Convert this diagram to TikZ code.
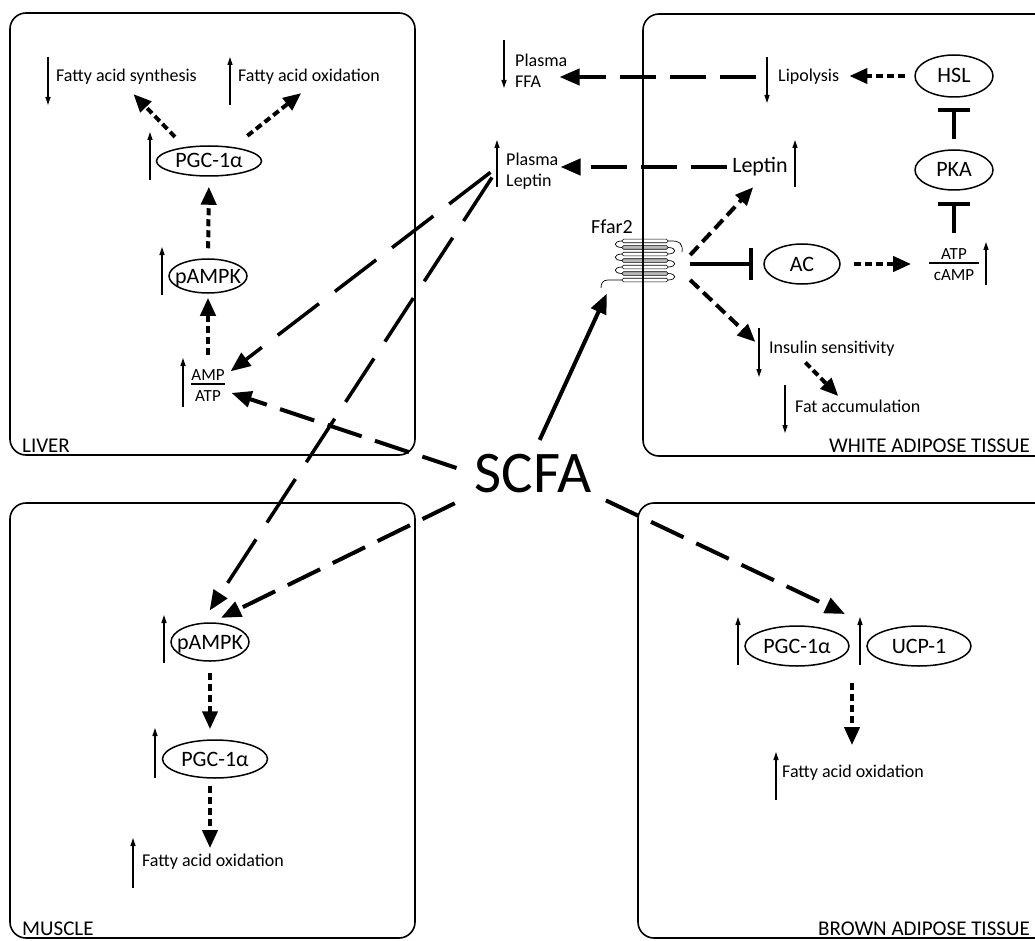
\documentclass[tikz,border=0pt]{standalone}
\usepackage{fontspec}
\setmainfont{Carlito}
\usetikzlibrary{arrows.meta,shapes.geometric}

\newcommand{\fracbox}[3][0pt]{{\setlength{\arrayrulewidth}{1.3pt}\begin{tabular}{@{\hspace{#1}}c@{\hspace{#1}}}#2\\[-3pt]\hline\rule{0pt}{17pt}#3\end{tabular}}}

\tikzset{
    organ/.style={draw, line width=1.6pt, rounded corners=16pt},
    region/.style={font=\fontsize{21}{24}\selectfont, inner sep=0pt},
    txt/.style={font=\fontsize{18}{21}\selectfont, anchor=west, inner sep=2pt, align=left},
    oval/.style={ellipse, draw, line width=1.5pt, inner sep=0pt, font=\fontsize{22}{26}\selectfont, text height=14pt, text depth=0pt},
    ratio/.style={font=\fontsize{17}{20}\selectfont, inner sep=1pt},
    updown/.style={line width=1.3pt, -{Triangle[length=8pt,width=5pt]}},
    sdash/.style={line width=4pt, dash pattern=on 7pt off 4pt, -{Triangle[length=18pt,width=15pt]}},
    mdash/.style={line width=4pt, dash pattern=on 12pt off 6pt, -{Triangle[length=18pt,width=15pt]}},
    ldash/.style={line width=4pt, dash pattern=on 36pt off 14pt, -{Triangle[length=20pt,width=16pt]}},
    pdash/.style={line width=3.5pt, dash pattern=on 52pt off 20pt, -{Triangle[length=20pt,width=16pt]}},
    solidarr/.style={line width=4pt, -{Triangle[length=20pt,width=16pt]}},
    blunt/.style={line width=4pt, -{Bar[width=32pt]}}
}

\begin{document}
\begin{tikzpicture}[x=1pt, y=-1pt]
    \useasboundingbox (0,0) rectangle (1035,941);
    \clip (0,0) rectangle (1035,941);

    % Ffar2 receptor
    \foreach \i in {0,2,4}
        \draw[line width=0.7pt] (622,{241+6.5*\i}) .. controls (613,{241+6.5*\i}) and (613,{247.5+6.5*\i}) .. (622,{247.5+6.5*\i});
    \foreach \i in {1,3,5}
        \draw[line width=0.7pt] (668,{241+6.5*\i}) .. controls (677,{241+6.5*\i}) and (677,{247.5+6.5*\i}) .. (668,{247.5+6.5*\i});
    \draw[line width=0.7pt] (668,241) .. controls (681,240) and (683,245) .. (682,252);
    \draw[line width=0.7pt] (622,280) -- (608,280) .. controls (603,280) and (601,283) .. (601,288);
    \foreach \i/\col in {0/white,1/gray!55,2/white,3/gray!55,4/white,5/gray!55,6/white}
        \draw[line width=0.6pt, fill=\col, rounded corners=1.5pt] (622,{239.2+6.5*\i}) rectangle (668,{242.8+6.5*\i});
    \node[minimum width=70pt, minimum height=50pt] (wffar) at (645,262) {};
    \node[font=\fontsize{20}{24}\selectfont] (wffarlbl) at (612,227) {Ffar2};

    % Organ boxes
    \draw[organ] (10,13) rectangle (415,455);
    \draw[organ] (643,14) rectangle (1070,456);
    \draw[organ] (10,503) rectangle (415,938);
    \draw[organ] (638,503) rectangle (1070,938);
    \node[region, anchor=base west] (livlbl) at (22,452) {LIVER};
    \node[region, anchor=base east] (watlbl) at (1030,452) {WHITE ADIPOSE TISSUE};
    \node[region, anchor=base west] (muslbl) at (22,935) {MUSCLE};
    \node[region, anchor=base east] (batlbl) at (1030,935) {BROWN ADIPOSE TISSUE};

    % Liver
    \node[oval, minimum width=105pt, minimum height=30pt] (lpgc) at (209,161) {PGC-1α};
    \node[oval, minimum width=78pt, minimum height=34pt] (lampk) at (208,276) {\makebox[0pt]{pAMPK}};
    \node[ratio] (lamp) at (208,387) {\fracbox{AMP}{ATP}};
    \node[txt] (lsyn) at (54,77) {Fatty acid synthesis};
    \node[txt] (lox) at (236,77) {Fatty acid oxidation};
    \draw[updown] (48,57) -- (48,105);
    \draw[updown] (230,105) -- (230,57);
    \draw[updown] (150,180) -- (150,132);
    \draw[updown] (162,295) -- (162,247);
    \draw[updown] (183,407) -- (183,358);
    \draw[sdash, shorten <=10pt, shorten >=4pt] (lamp.north) -- (lampk.south);
    \draw[sdash, shorten <=10pt, shorten >=10pt] (lampk.north) -- (lpgc.south);
    \draw[sdash, shorten <=14pt, shorten >=10pt] (lpgc.150) -- (lsyn.south);
    \draw[sdash, shorten <=18pt, shorten >=10pt] (lpgc.30) -- (lox.south);

    % Muscle
    \node[oval, minimum width=78pt, minimum height=38pt] (mampk) at (210,642) {\makebox[0pt]{pAMPK}};
    \node[oval, minimum width=105pt, minimum height=38pt] (mpgc) at (215,759) {PGC-1α};
    \node[txt] (mox) at (140,862) {Fatty acid oxidation};
    \draw[updown] (164,663) -- (164,615);
    \draw[updown] (155,778) -- (155,728);
    \draw[updown] (133,888) -- (133,838);
    \draw[sdash, shorten <=11pt, shorten >=10pt] (mampk.south) -- (mampk.south |- mpgc.north);
    \draw[sdash, shorten <=7pt, shorten >=4pt] (mampk.south |- mpgc.south) -- (mampk.south |- mox.north);

    % Brown adipose tissue
    \node[oval, minimum width=104pt, minimum height=40pt] (bpgc) at (797,646) {PGC-1α};
    \node[oval, minimum width=104pt, minimum height=40pt] (bucp) at (919,646) {UCP-1};
    \node[txt] (bfox) at (780,773) {Fatty acid oxidation};
    \coordinate (bjoin) at (852,666);
    \coordinate (btop) at (845,614);
    \draw[updown] (738,665) -- (738,617);
    \draw[updown] (860,665) -- (860,617);
    \draw[updown] (776,800) -- (776,752);
    \draw[sdash, shorten <=17pt, shorten >=18pt] (bjoin) -- (bjoin |- bfox.north);

    % White adipose tissue
    \node[oval, minimum width=78pt, minimum height=42pt] (whsl) at (954,76) {HSL};
    \node[oval, minimum width=78pt, minimum height=40pt] (wpka) at (954,170) {PKA};
    \node[ratio] (wratio) at (954,266) {\fracbox[4.5pt]{ATP}{cAMP}};
    \node[oval, minimum width=76pt, minimum height=40pt] (wac) at (802,264) {AC};
    \node[txt] (wlip) at (776,77) {Lipolysis};
    \node[txt] (wffa) at (513,71) {Plasma\\FFA};
    \node[font=\fontsize{22}{26}\selectfont] (wlep) at (760,167) {Leptin};
    \node[txt] (wpl) at (504,171) {Plasma\\Leptin};
    \node[txt] (wins) at (767,349) {Insulin sensitivity};
    \node[txt] (wfat) at (793,406) {Fat accumulation};
    \draw[updown] (504,40) -- (504,88);
    \draw[updown] (767,57) -- (767,103);
    \draw[updown] (795,187) -- (795,140);
    \draw[updown] (497,187) -- (497,140);
    \draw[updown] (986,285) -- (986,242);
    \draw[updown] (759,328) -- (759,377);
    \draw[updown] (785,385) -- (785,433);
    \draw[sdash, shorten <=9pt, shorten >=8pt] (whsl.west) -- (whsl.west -| wlip.east);
    \draw[ldash, shorten <=20pt, shorten >=-10pt] (wlip.west) -- (wlip.west -| wffa.east);
    \draw[ldash, shorten <=2pt] (wlep.west) -- (wlep.west -| wpl.east);
    \draw[blunt, shorten <=10pt, shorten >=10pt] (wpka.north) -- (whsl.south);
    \draw[blunt, shorten <=11pt, shorten >=11pt] (wratio.north) -- (wpka.south);
    \draw[sdash, shorten <=13pt, shorten >=17pt] (wac.east) -- (wac.east -| wratio.west);
    \draw[blunt, shorten <=10pt, shorten >=10pt] (wac.west -| wffar.east) -- (wac.west);
    \draw[mdash, shorten >=10pt] ([shift={(10,-7)}]wffar.east) -- (wlep.south);
    \draw[mdash, shorten >=16pt] ([shift={(10,18)}]wffar.east) -- ([yshift=-4pt]wins.west);
    \draw[sdash, shorten <=5pt, shorten >=2pt] ([xshift=-30pt]wins.south) -- ([xshift=-18pt]wfat.north);

    % SCFA and the long connectors
    \node[font=\fontsize{59}{64}\selectfont, inner sep=0pt] (scfa) at (533,474) {SCFA};
    \draw[solidarr, shorten <=16pt, shorten >=7pt] (scfa.north) -- (wffar.south west);
    \draw[ldash, shorten <=19pt, shorten >=6pt] (scfa.west) -- ([yshift=-4pt]lamp.east);
    \draw[ldash, shorten <=22pt, shorten >=10pt] (scfa.south west) -- ([xshift=2pt]mampk.north);
    \draw[ldash, shorten <=16pt] (scfa.south east) -- (btop);
    \draw[pdash, shorten <=17pt, shorten >=6pt] ([yshift=9pt]wpl.west) -- ([yshift=12pt]lamp.east);
    \draw[pdash, shorten <=22pt, shorten >=14pt] ([yshift=12pt]wpl.west) -- ([xshift=-8pt]mampk.north);
\end{tikzpicture}
\end{document}
